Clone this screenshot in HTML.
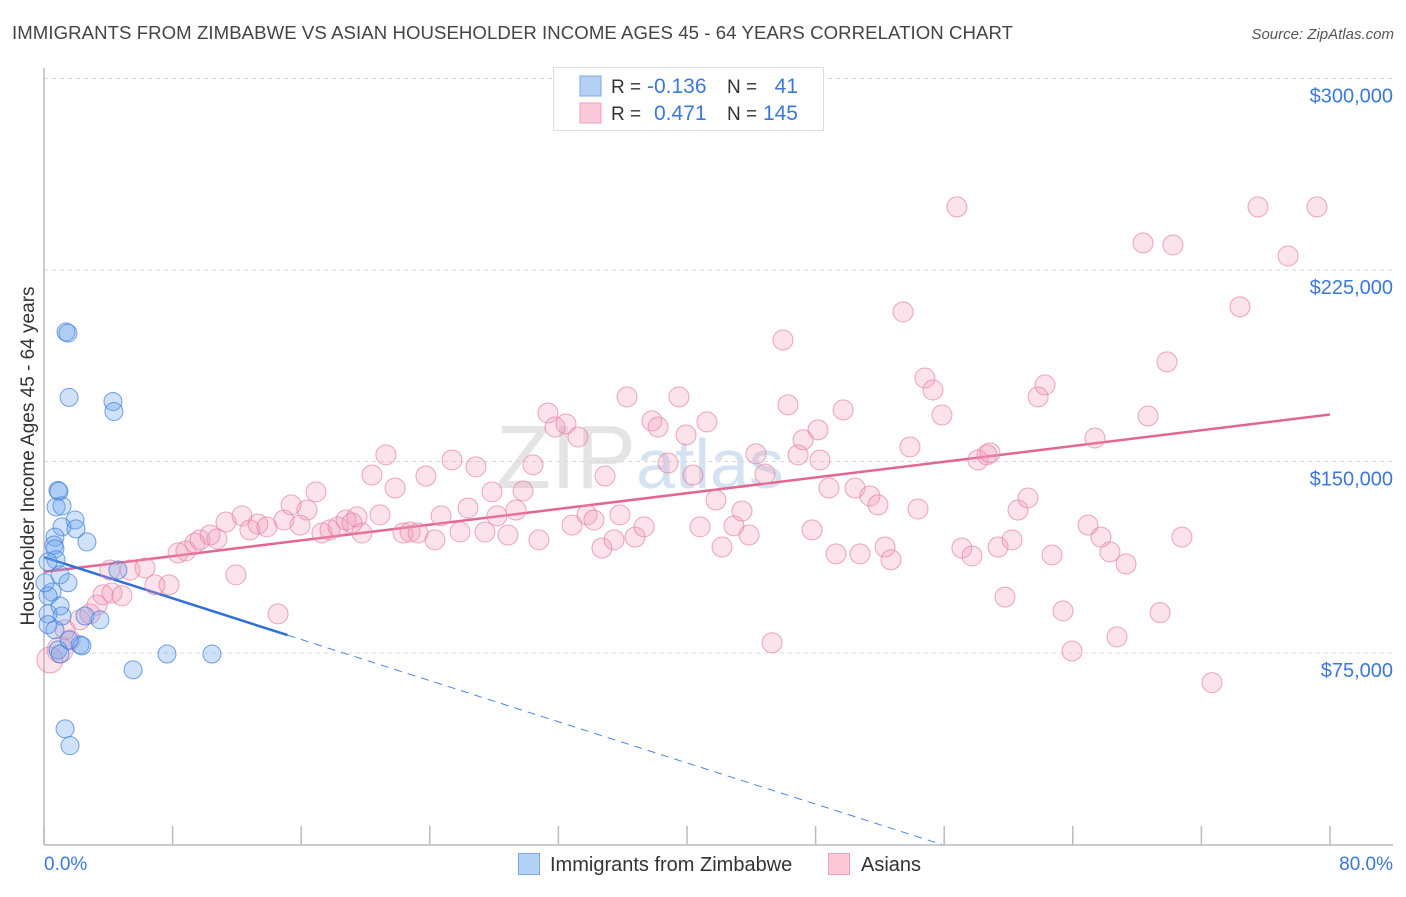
<!DOCTYPE html>
<html><head><meta charset="utf-8"><style>
body{margin:0;background:#fff;font-family:"Liberation Sans",sans-serif;}
svg text{font-family:"Liberation Sans",sans-serif;}
</style></head><body>
<svg id="chart" width="1406" height="892">
<text x="12" y="39" font-size="18.6" fill="#444" textLength="1001">IMMIGRANTS FROM ZIMBABWE VS ASIAN HOUSEHOLDER INCOME AGES 45 - 64 YEARS CORRELATION CHART</text>
<text x="1394" y="39" font-size="15" fill="#555" font-style="italic" text-anchor="end">Source: ZipAtlas.com</text>
<text x="640" y="488" font-size="90" fill="#e4e4e4" font-family="Liberation Serif" text-anchor="middle">ZIP<tspan fill="#d4e2f2" font-family="Liberation Sans" font-size="70">atlas</tspan></text>
<g id="grid"></g>
<g id="axes"></g>
<g id="lines"></g>
<g id="pts"></g>
<text transform="translate(34,456) rotate(-90)" font-size="19" fill="#333" text-anchor="middle">Householder Income Ages 45 - 64 years</text>
<text x="44" y="870" font-size="19" fill="#3b78d8">0.0%</text>
<text x="1393" y="870" font-size="19" fill="#3b78d8" text-anchor="end">80.0%</text>
<g>
<rect x="553.5" y="67.5" width="270" height="63" fill="#fff" stroke="#ddd"/>
<rect x="580" y="76" width="21" height="20" fill="#b5d0f5" stroke="#7aa7e6"/>
<rect x="580" y="103" width="21" height="20" fill="#fbc9d8" stroke="#eda0bb"/>
<text x="611" y="93" font-size="19" fill="#333">R =</text>
<text x="647" y="93" font-size="21" fill="#3b78d8">-0.136</text>
<text x="727" y="93" font-size="19" fill="#333">N =</text>
<text x="798" y="93" font-size="21" fill="#3b78d8" text-anchor="end">41</text>
<text x="611" y="120" font-size="19" fill="#333">R =</text>
<text x="654" y="120" font-size="21" fill="#3b78d8">0.471</text>
<text x="727" y="120" font-size="19" fill="#333">N =</text>
<text x="798" y="120" font-size="21" fill="#3b78d8" text-anchor="end">145</text>
</g>
<g>
<rect x="518.5" y="853.5" width="21" height="21" fill="#b5d0f5" stroke="#7aa7e6"/>
<text x="550" y="871" font-size="20" fill="#333">Immigrants from Zimbabwe</text>
<rect x="828.5" y="853.5" width="21" height="21" fill="#fbc9d8" stroke="#eda0bb"/>
<text x="861" y="871" font-size="20" fill="#333">Asians</text>
</g>
</svg>
<script>
const yTicks=[75,150,225,300];
const yTickLabels=["$75,000","$150,000","$225,000","$300,000"];
const xTicks=[0,8,16,24,32,40,48,56,64,72,80];
const blueX=[1.37,1.49,1.56,4.29,4.35,0.87,0.93,0.75,1.12,1.93,1.12,1.99,2.67,0.68,0.62,0.68,0.75,0.25,1.0,1.49,4.6,0.5,0.25,1.0,0.25,1.12,2.55,2.24,2.36,0.87,1.0,1.56,7.65,10.45,5.54,1.31,1.62,0.25,0.68,0.06,3.48];
const blueY=[200.7,200.3,175.1,173.5,169.6,138.7,138.3,132.2,132.6,127.1,124.4,123.6,118.5,120.4,117.3,115.8,111.5,110.7,105.6,102.5,107.5,98.9,97.4,93.4,90.3,89.5,89.5,78.2,77.8,76.2,74.6,80.1,74.6,74.6,68.4,45.3,38.7,86.1,84.1,102.5,88.0];
const pinkX=[0.37,1.0,1.62,1.31,2.24,2.86,3.3,3.67,4.23,4.85,4.1,5.35,6.28,6.9,7.78,8.34,8.83,9.39,9.7,10.33,10.76,11.32,11.94,12.32,12.81,13.31,13.87,14.56,14.93,15.37,15.93,16.36,16.92,17.29,17.79,18.29,18.79,19.16,19.47,19.78,20.4,20.9,21.27,21.84,22.33,22.77,23.27,23.76,24.32,24.7,25.38,25.88,26.38,26.87,27.43,27.87,28.18,28.86,29.36,29.8,30.42,30.79,31.35,31.79,32.47,32.85,33.22,33.78,34.21,34.71,34.9,35.46,35.83,36.27,36.77,37.33,37.82,38.2,38.82,39.5,39.94,40.37,40.81,41.24,41.8,42.18,42.92,43.42,43.86,44.29,44.85,45.29,45.97,46.28,46.91,47.22,47.78,48.15,48.27,48.83,49.27,49.71,50.45,50.76,51.38,51.88,52.32,52.69,53.44,53.87,54.37,54.8,55.3,55.86,56.79,57.1,57.73,58.1,58.66,59.35,59.78,60.22,60.59,61.21,61.84,62.27,62.71,63.39,63.95,64.95,65.38,65.75,66.31,66.75,67.31,68.37,68.68,69.43,69.86,70.23,70.79,72.66,74.4,75.52,77.39,79.19,58.85];
const pinkY=[72.3,76.2,80.1,84.1,88.0,90.3,93.8,97.8,98.5,97.4,107.5,107.5,108.3,101.7,101.7,114.2,115.0,118.1,119.3,121.2,119.7,126.3,105.6,128.7,123.2,125.5,124.4,90.3,127.1,133.0,125.1,131.0,138.1,122.0,123.2,124.4,127.1,125.9,128.3,122.0,144.7,129.1,152.6,139.6,122.0,122.4,122.0,144.3,119.3,128.7,150.6,122.4,131.8,147.9,122.4,138.1,128.7,121.2,131.0,138.5,148.7,119.3,169.0,163.5,164.7,125.1,159.6,129.1,127.1,116.1,144.3,119.3,129.1,175.3,120.4,124.4,165.9,163.5,149.4,175.3,160.4,144.7,124.4,165.5,134.9,116.5,124.8,130.6,121.2,153.0,145.1,79.0,197.6,172.2,152.6,158.5,123.2,162.4,150.6,139.6,113.8,170.2,139.6,113.8,136.5,133.0,116.5,111.5,208.6,155.7,131.4,182.7,178.0,168.2,249.7,116.1,113.0,150.6,152.6,116.5,96.9,119.3,131.0,135.7,175.3,180.0,113.4,91.5,75.8,125.1,159.2,120.4,114.6,81.3,109.9,235.6,167.8,90.8,189.0,234.8,120.4,63.4,210.6,249.7,230.5,249.7,153.4];

const X0=44,X1=1330,Y0=844.5,YS=191.5/75;
const sx=v=>X0+(X1-X0)*v/80;
const sy=v=>Y0-v*YS;
const NS="http://www.w3.org/2000/svg";
function mk(tag,attrs,parent){const e=document.createElementNS(NS,tag);for(const k in attrs)e.setAttribute(k,attrs[k]);parent.appendChild(e);return e;}
const grid=document.getElementById('grid'),axes=document.getElementById('axes'),lines=document.getElementById('lines'),pts=document.getElementById('pts');
yTicks.forEach((t,i)=>{
  const l=mk('line',{x1:44,x2:1393,y1:sy(t),y2:sy(t),stroke:'#d8d8d8','stroke-dasharray':'4,4'},grid);
  
  
  const tx=mk('text',{x:1393,y:sy(t)+24,'font-size':20,fill:'#3b78d8','text-anchor':'end'},grid);
  tx.textContent=yTickLabels[i];
  
  
});
const ax=mk('line',{x1:44,x2:44,y1:68,y2:845,stroke:'#bbb','stroke-width':1.5},axes);


const bx=mk('line',{x1:44,x2:1393,y1:845,y2:845,stroke:'#bbb','stroke-width':1.5},axes);


xTicks.forEach(t=>{
  const l=mk('line',{x1:sx(t),x2:sx(t),y1:826,y2:845,stroke:'#bbb','stroke-width':1.5},axes);
  
  
});
function reg(xs,ys){const n=xs.length;let mx=0,my=0;for(let i=0;i<n;i++){mx+=xs[i];my+=ys[i];}mx/=n;my/=n;let sxy=0,sxx=0;for(let i=0;i<n;i++){sxy+=(xs[i]-mx)*(ys[i]-my);sxx+=(xs[i]-mx)**2;}const b=sxy/sxx;return [my-b*mx,b];}
pinkX.forEach((x,i)=>{
  const r=(x<1.5&&pinkY[i]<80)?13:10;
  const c=mk('circle',{cx:sx(x),cy:sy(pinkY[i]),r:r,fill:'rgba(242,150,182,0.28)',stroke:'rgba(230,130,165,0.7)','stroke-width':1},pts);
  
  
});
blueX.forEach((x,i)=>{
  const c=mk('circle',{cx:sx(x),cy:sy(blueY[i]),r:9,fill:'rgba(110,165,235,0.32)',stroke:'rgba(70,130,220,0.75)','stroke-width':1},pts);
  
  
});
const [pa,pb]=reg(pinkX,pinkY);
const pl=mk('line',{x1:sx(0),y1:sy(pa),x2:sx(80),y2:sy(pa+pb*80),stroke:'#e4668f','stroke-width':2.5},lines);


const [ba,bb]=reg(blueX,blueY);
const xm=Math.max(...blueX)*1.45;
const bl=mk('line',{x1:sx(0),y1:sy(ba),x2:sx(xm),y2:sy(ba+bb*xm),stroke:'#2f6fd6','stroke-width':2.5},lines);


const xz=bb<0?Math.min(80,-ba/bb):80;
const bd=mk('line',{x1:sx(xm),y1:sy(ba+bb*xm),x2:sx(xz),y2:sy(ba+bb*xz),stroke:'#4a86e0','stroke-width':1,'stroke-dasharray':'8,6'},lines);


</script>
</body></html>
